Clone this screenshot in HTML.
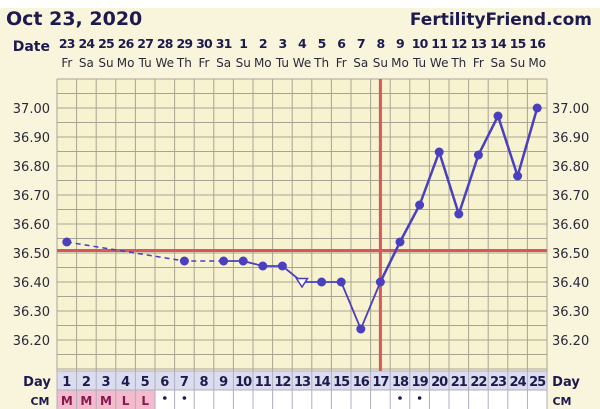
<!DOCTYPE html>
<html><head><meta charset="utf-8"><style>
html,body{margin:0;padding:0;background:#fff;}
svg{display:block;font-family:"DejaVu Sans","Liberation Sans",sans-serif;}
</style></head><body>
<svg width="600" height="409" viewBox="0 0 600 409" xmlns="http://www.w3.org/2000/svg">
<rect x="0" y="8" width="600" height="401" fill="#f9f4dc"/>
<text x="6" y="25" font-size="19" font-weight="bold" fill="#1c1a4e">Oct 23, 2020</text>
<text x="592" y="25" font-size="17" font-weight="bold" fill="#1c1a4e" text-anchor="end">FertilityFriend.com</text>
<text x="50" y="51" font-size="14" font-weight="bold" fill="#1c1a4e" text-anchor="end">Date</text>
<g font-size="12.5" font-weight="bold" fill="#1c1a4e" text-anchor="middle" letter-spacing="-0.8">
<text x="66.8" y="48">23</text><text x="86.4" y="48">24</text><text x="106" y="48">25</text><text x="125.6" y="48">26</text><text x="145.2" y="48">27</text><text x="164.8" y="48">28</text><text x="184.4" y="48">29</text><text x="204" y="48">30</text><text x="223.6" y="48">31</text><text x="243.2" y="48">1</text><text x="262.8" y="48">2</text><text x="282.4" y="48">3</text><text x="302" y="48">4</text><text x="321.6" y="48">5</text><text x="341.2" y="48">6</text><text x="360.8" y="48">7</text><text x="380.4" y="48">8</text><text x="400" y="48">9</text><text x="419.6" y="48">10</text><text x="439.2" y="48">11</text><text x="458.8" y="48">12</text><text x="478.4" y="48">13</text><text x="498" y="48">14</text><text x="517.6" y="48">15</text><text x="537.2" y="48">16</text>
</g>
<g font-size="12" fill="#2a2a3a" text-anchor="middle">
<text x="66.8" y="67">Fr</text><text x="86.4" y="67">Sa</text><text x="106" y="67">Su</text><text x="125.6" y="67">Mo</text><text x="145.2" y="67">Tu</text><text x="164.8" y="67">We</text><text x="184.4" y="67">Th</text><text x="204" y="67">Fr</text><text x="223.6" y="67">Sa</text><text x="243.2" y="67">Su</text><text x="262.8" y="67">Mo</text><text x="282.4" y="67">Tu</text><text x="302" y="67">We</text><text x="321.6" y="67">Th</text><text x="341.2" y="67">Fr</text><text x="360.8" y="67">Sa</text><text x="380.4" y="67">Su</text><text x="400" y="67">Mo</text><text x="419.6" y="67">Tu</text><text x="439.2" y="67">We</text><text x="458.8" y="67">Th</text><text x="478.4" y="67">Fr</text><text x="498" y="67">Sa</text><text x="517.6" y="67">Su</text><text x="537.2" y="67">Mo</text>
</g>
<rect x="57" y="79" width="490" height="290" fill="#f7f2cf"/>
<g stroke="#a8a493" stroke-width="1">
<line x1="57" y1="79" x2="547" y2="79"/><line x1="57" y1="93.5" x2="547" y2="93.5"/><line x1="57" y1="108" x2="547" y2="108"/><line x1="57" y1="122.5" x2="547" y2="122.5"/><line x1="57" y1="137" x2="547" y2="137"/><line x1="57" y1="151.5" x2="547" y2="151.5"/><line x1="57" y1="166" x2="547" y2="166"/><line x1="57" y1="180.5" x2="547" y2="180.5"/><line x1="57" y1="195" x2="547" y2="195"/><line x1="57" y1="209.5" x2="547" y2="209.5"/><line x1="57" y1="224" x2="547" y2="224"/><line x1="57" y1="238.5" x2="547" y2="238.5"/><line x1="57" y1="253" x2="547" y2="253"/><line x1="57" y1="267.5" x2="547" y2="267.5"/><line x1="57" y1="282" x2="547" y2="282"/><line x1="57" y1="296.5" x2="547" y2="296.5"/><line x1="57" y1="311" x2="547" y2="311"/><line x1="57" y1="325.5" x2="547" y2="325.5"/><line x1="57" y1="340" x2="547" y2="340"/><line x1="57" y1="354.5" x2="547" y2="354.5"/><line x1="57" y1="369" x2="547" y2="369"/>
<line x1="57" y1="79" x2="57" y2="409"/><line x1="76.6" y1="79" x2="76.6" y2="409"/><line x1="96.2" y1="79" x2="96.2" y2="409"/><line x1="115.8" y1="79" x2="115.8" y2="409"/><line x1="135.4" y1="79" x2="135.4" y2="409"/><line x1="155" y1="79" x2="155" y2="409"/><line x1="174.6" y1="79" x2="174.6" y2="409"/><line x1="194.2" y1="79" x2="194.2" y2="409"/><line x1="213.8" y1="79" x2="213.8" y2="409"/><line x1="233.4" y1="79" x2="233.4" y2="409"/><line x1="253" y1="79" x2="253" y2="409"/><line x1="272.6" y1="79" x2="272.6" y2="409"/><line x1="292.2" y1="79" x2="292.2" y2="409"/><line x1="311.8" y1="79" x2="311.8" y2="409"/><line x1="331.4" y1="79" x2="331.4" y2="409"/><line x1="351" y1="79" x2="351" y2="409"/><line x1="370.6" y1="79" x2="370.6" y2="409"/><line x1="390.2" y1="79" x2="390.2" y2="409"/><line x1="409.8" y1="79" x2="409.8" y2="409"/><line x1="429.4" y1="79" x2="429.4" y2="409"/><line x1="449" y1="79" x2="449" y2="409"/><line x1="468.6" y1="79" x2="468.6" y2="409"/><line x1="488.2" y1="79" x2="488.2" y2="409"/><line x1="507.8" y1="79" x2="507.8" y2="409"/><line x1="527.4" y1="79" x2="527.4" y2="409"/><line x1="547" y1="79" x2="547" y2="409"/>
</g>
<rect x="57" y="371" width="490" height="19" fill="#dcdcef"/>
<rect x="57" y="390" width="490" height="19" fill="#ffffff"/>
<rect x="57" y="390" width="98" height="19" fill="#f2bccd"/>
<g stroke="#b0aec0" stroke-width="1">
<line x1="57" y1="371" x2="547" y2="371"/><line x1="57" y1="390" x2="547" y2="390"/>
<line x1="57" y1="371" x2="57" y2="409"/><line x1="76.6" y1="371" x2="76.6" y2="409"/><line x1="96.2" y1="371" x2="96.2" y2="409"/><line x1="115.8" y1="371" x2="115.8" y2="409"/><line x1="135.4" y1="371" x2="135.4" y2="409"/><line x1="155" y1="371" x2="155" y2="409"/><line x1="174.6" y1="371" x2="174.6" y2="409"/><line x1="194.2" y1="371" x2="194.2" y2="409"/><line x1="213.8" y1="371" x2="213.8" y2="409"/><line x1="233.4" y1="371" x2="233.4" y2="409"/><line x1="253" y1="371" x2="253" y2="409"/><line x1="272.6" y1="371" x2="272.6" y2="409"/><line x1="292.2" y1="371" x2="292.2" y2="409"/><line x1="311.8" y1="371" x2="311.8" y2="409"/><line x1="331.4" y1="371" x2="331.4" y2="409"/><line x1="351" y1="371" x2="351" y2="409"/><line x1="370.6" y1="371" x2="370.6" y2="409"/><line x1="390.2" y1="371" x2="390.2" y2="409"/><line x1="409.8" y1="371" x2="409.8" y2="409"/><line x1="429.4" y1="371" x2="429.4" y2="409"/><line x1="449" y1="371" x2="449" y2="409"/><line x1="468.6" y1="371" x2="468.6" y2="409"/><line x1="488.2" y1="371" x2="488.2" y2="409"/><line x1="507.8" y1="371" x2="507.8" y2="409"/><line x1="527.4" y1="371" x2="527.4" y2="409"/><line x1="547" y1="371" x2="547" y2="409"/>
</g>
<g font-size="13" font-weight="bold" fill="#1c1a4e" text-anchor="middle">
<text x="66.8" y="386">1</text><text x="86.4" y="386">2</text><text x="106" y="386">3</text><text x="125.6" y="386">4</text><text x="145.2" y="386">5</text><text x="164.8" y="386">6</text><text x="184.4" y="386">7</text><text x="204" y="386">8</text><text x="223.6" y="386">9</text><text x="243.2" y="386" letter-spacing="-1">10</text><text x="262.8" y="386" letter-spacing="-1">11</text><text x="282.4" y="386" letter-spacing="-1">12</text><text x="302" y="386" letter-spacing="-1">13</text><text x="321.6" y="386" letter-spacing="-1">14</text><text x="341.2" y="386" letter-spacing="-1">15</text><text x="360.8" y="386" letter-spacing="-1">16</text><text x="380.4" y="386" letter-spacing="-1">17</text><text x="400" y="386" letter-spacing="-1">18</text><text x="419.6" y="386" letter-spacing="-1">19</text><text x="439.2" y="386" letter-spacing="-1">20</text><text x="458.8" y="386" letter-spacing="-1">21</text><text x="478.4" y="386" letter-spacing="-1">22</text><text x="498" y="386" letter-spacing="-1">23</text><text x="517.6" y="386" letter-spacing="-1">24</text><text x="537.2" y="386" letter-spacing="-1">25</text>
<text x="37" y="386">Day</text><text x="566" y="386">Day</text>
</g>
<g font-size="12" font-weight="bold" fill="#8a1850" text-anchor="middle">
<text x="66.8" y="405">M</text><text x="86.4" y="405">M</text><text x="106" y="405">M</text><text x="125.6" y="405">L</text><text x="145.2" y="405">L</text>
</g>
<g fill="#1c1a4e"><circle cx="164.8" cy="398" r="1.8"/><circle cx="184.4" cy="398" r="1.8"/><circle cx="400" cy="398" r="1.8"/><circle cx="419.6" cy="398" r="1.8"/></g>
<g font-size="11" font-weight="bold" fill="#1c1a4e" text-anchor="middle"><text x="40" y="405">CM</text><text x="562" y="405">CM</text></g>
<g font-size="13" fill="#2a2a3a">
<text x="50" y="113" text-anchor="end">37.00</text><text x="50" y="142" text-anchor="end">36.90</text><text x="50" y="171" text-anchor="end">36.80</text><text x="50" y="200" text-anchor="end">36.70</text><text x="50" y="229" text-anchor="end">36.60</text><text x="50" y="258" text-anchor="end">36.50</text><text x="50" y="287" text-anchor="end">36.40</text><text x="50" y="316" text-anchor="end">36.30</text><text x="50" y="345" text-anchor="end">36.20</text>
<text x="552" y="113">37.00</text><text x="552" y="142">36.90</text><text x="552" y="171">36.80</text><text x="552" y="200">36.70</text><text x="552" y="229">36.60</text><text x="552" y="258">36.50</text><text x="552" y="287">36.40</text><text x="552" y="316">36.30</text><text x="552" y="345">36.20</text>
</g>
<line x1="57" y1="250.5" x2="547" y2="250.5" stroke="#d9575a" stroke-width="3"/>
<line x1="380.4" y1="79" x2="380.4" y2="371" stroke="#d9575a" stroke-width="3"/>
<g stroke="#4a3fbf" fill="none">
<polyline points="66.8,242 184.4,261 223.6,261" stroke-width="1.5" stroke-dasharray="5,4"/>
<polyline points="223.6,261 243.2,261 262.8,266 282.4,266 302,282 321.6,282 341.2,282 360.8,329 380.4,282" stroke-width="1.8"/>
<polyline points="380.4,282 400,242 419.6,205 439.2,152 458.8,214 478.4,155 498,116 517.6,176 537.2,108" stroke-width="2.5"/>
</g>
<g fill="#4a3fbf">
<circle cx="66.8" cy="242" r="4.5"/><circle cx="184.4" cy="261" r="4.5"/><circle cx="223.6" cy="261" r="4.5"/><circle cx="243.2" cy="261" r="4.5"/><circle cx="262.8" cy="266" r="4.5"/><circle cx="282.4" cy="266" r="4.5"/><circle cx="321.6" cy="282" r="4.5"/><circle cx="341.2" cy="282" r="4.5"/><circle cx="360.8" cy="329" r="4.5"/><circle cx="380.4" cy="282" r="4.5"/><circle cx="400" cy="242" r="4.5"/><circle cx="419.6" cy="205" r="4.5"/><circle cx="439.2" cy="152" r="4.5"/><circle cx="458.8" cy="214" r="4.5"/><circle cx="478.4" cy="155" r="4.5"/><circle cx="498" cy="116" r="4.5"/><circle cx="517.6" cy="176" r="4.5"/><circle cx="537.2" cy="108" r="4.5"/>
</g>
<polygon points="296.5,278.5 307.5,278.5 302,287" fill="#ffffff" stroke="#4a3fbf" stroke-width="1.5"/>
</svg>
</body></html>
